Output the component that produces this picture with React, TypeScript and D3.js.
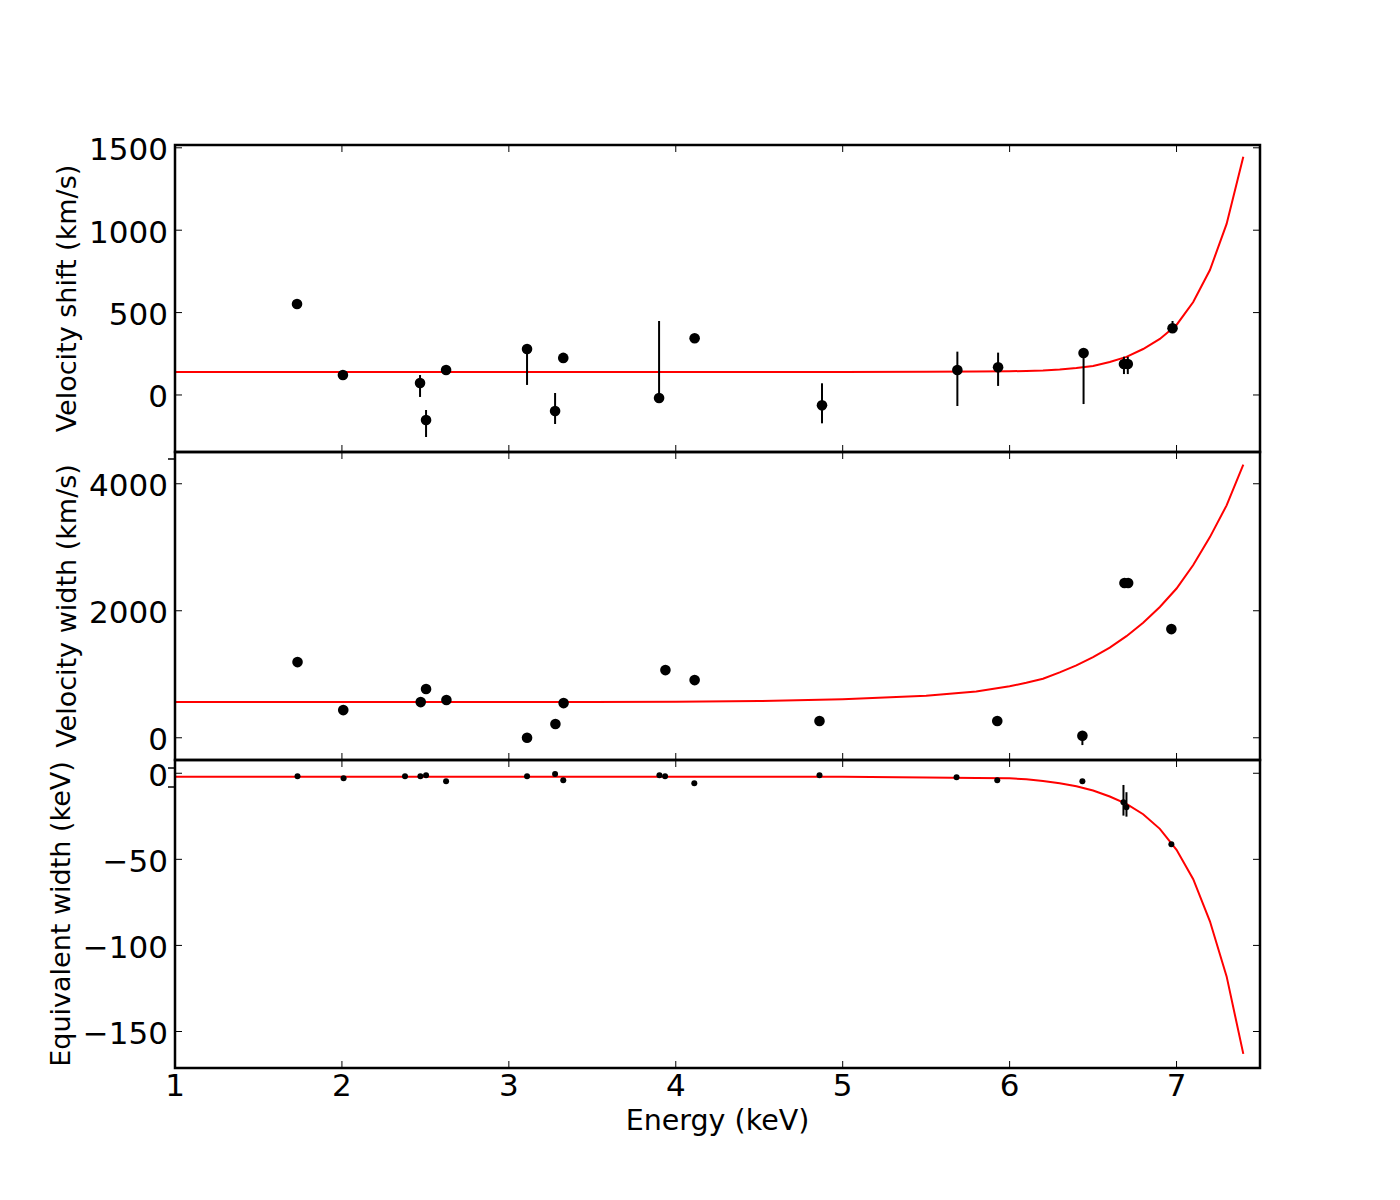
import React, { useEffect, useRef } from 'react';
import * as d3 from 'd3';

// Velocity shift panel (km/s)
const shiftEnergy = [1.731, 2.006, 2.468, 2.504, 2.624, 3.109, 3.277, 3.326, 3.900, 4.113, 4.876, 5.687, 5.931, 6.443, 6.685, 6.708, 6.976];
const shiftValue = [552, 121, 73, -152, 152, 279, -97, 225, -18, 344, -63, 152, 168, 255, 188, 188, 405];
const shiftLo = [null, null, -12, -255, null, 61, -176, null, -18, null, -172, -67, 55, -55, 127, 127, 405];
const shiftHi = [null, null, 121, -91, null, 279, 12, null, 449, null, 71, 263, 257, 255, 232, 232, 449];

// Velocity width panel (km/s)
const widthEnergy = [1.734, 2.008, 2.472, 2.504, 2.626, 3.109, 3.279, 3.328, 3.938, 4.113, 4.861, 5.926, 6.436, 6.688, 6.710, 6.969];
const widthValue = [1192, 436, 562, 767, 594, 0, 216, 546, 1066, 908, 263, 263, 31, 2436, 2436, 1711];
const widthLo = [null, null, null, null, null, null, null, null, 1010, null, null, null, -115, null, null, null];
const widthHi = [null, null, null, null, null, null, null, null, 1120, null, null, null, 99, null, null, null];

// Equivalent width panel (keV)
const ewEnergy = [1.734, 2.010, 2.378, 2.470, 2.504, 2.624, 3.109, 3.277, 3.326, 3.902, 3.936, 4.111, 4.861, 5.682, 5.926, 6.436, 6.682, 6.700, 6.969];
const ewValue = [-1.7, -2.9, -1.7, -1.7, -1.2, -4.6, -1.7, -0.4, -4.1, -1.2, -1.7, -5.8, -1.2, -2.3, -4.1, -4.6, -16.8, -19.7, -41.2];
const ewLo = [null, null, null, null, null, null, null, null, null, null, null, null, null, null, null, null, -24.6, -25.2, null];
const ewHi = [null, null, null, null, null, null, null, null, null, null, null, null, null, null, null, null, -6.8, -11.0, null];

// model curves
const modelEnergy = [1.0, 3.5, 4.0, 4.5, 5.0, 5.5, 5.8, 6.0, 6.1, 6.2, 6.3, 6.4, 6.5, 6.6, 6.7, 6.8, 6.9, 7.0, 7.1, 7.2, 7.3, 7.4];
const modelShift = [140, 140, 140, 140, 140, 141, 142, 144, 146, 149, 155, 164, 176, 200, 231, 279, 340, 425, 564, 758, 1038, 1445];
const modelWidth = [562, 564, 567, 578, 605, 660, 730, 810, 865, 930, 1030, 1140, 1270, 1420, 1600, 1810, 2060, 2350, 2720, 3160, 3660, 4300];
const modelEw = [-2.1, -2.1, -2.1, -2.1, -2.1, -2.4, -2.7, -2.9, -3.5, -4.5, -5.8, -7.5, -10.0, -13.5, -17.8, -23.8, -32.3, -44.5, -61.5, -86, -118, -163];

const xTicks = [1, 2, 3, 4, 5, 6, 7];
const shiftTicks = [0, 500, 1000, 1500];
const widthTicks = [0, 2000, 4000];
const ewTicks = [0, -50, -100, -150];

const App: React.FC = () => {
  const ref = useRef<SVGSVGElement | null>(null);

  useEffect(() => {
    if (!ref.current) return;
    const svg = d3.select(ref.current);
    svg.selectAll('*').remove();

    const left = 175;
    const right = 1260;
    const font = 'DejaVu Sans, Verdana, sans-serif';

    const x = d3.scaleLinear().domain([1, 7.5]).range([left, right]);

    const panels = [
      { top: 145, bottom: 452, domain: [-346, 1517], ticks: shiftTicks, label: 'Velocity shift (km/s)', labelX: 76,
        energy: shiftEnergy, value: shiftValue, lo: shiftLo, hi: shiftHi, model: modelShift, r: 5.3 },
      { top: 452, bottom: 760, domain: [-350, 4500], ticks: widthTicks, label: 'Velocity width (km/s)', labelX: 76,
        energy: widthEnergy, value: widthValue, lo: widthLo, hi: widthHi, model: modelWidth, r: 5.3 },
      { top: 760, bottom: 1068, domain: [-171.2, 7.7], ticks: ewTicks, label: 'Equivalent width (keV)', labelX: 70,
        energy: ewEnergy, value: ewValue, lo: ewLo, hi: ewHi, model: modelEw, r: 3 },
    ];

    panels.forEach((p, pi) => {
      const y = d3.scaleLinear().domain(p.domain).range([p.bottom, p.top]);
      const g = svg.append('g');

      const clipId = `clip${pi}`;
      svg.append('clipPath').attr('id', clipId)
        .append('rect').attr('x', left).attr('y', p.top).attr('width', right - left).attr('height', p.bottom - p.top);

      const plot = g.append('g').attr('clip-path', `url(#${clipId})`);

      // model line
      const line = d3.line<number>()
        .x((_, i) => x(modelEnergy[i]))
        .y((d) => y(d));
      plot.append('path')
        .datum(p.model)
        .attr('d', line)
        .attr('fill', 'none')
        .attr('stroke', '#ff0000')
        .attr('stroke-width', 2);

      // error bars
      p.energy.forEach((e, i) => {
        const lo = p.lo[i];
        const hi = p.hi[i];
        if (lo === null || hi === null) return;
        plot.append('line')
          .attr('x1', x(e)).attr('x2', x(e))
          .attr('y1', y(lo)).attr('y2', y(hi))
          .attr('stroke', '#000').attr('stroke-width', 2);
      });

      // points
      plot.selectAll('circle.pt')
        .data(p.energy)
        .enter()
        .append('circle')
        .attr('cx', (d) => x(d))
        .attr('cy', (_, i) => y(p.value[i]))
        .attr('r', p.r)
        .attr('fill', '#000');

      // ticks (inward, all four sides)
      p.ticks.forEach((t) => {
        g.append('line').attr('x1', left).attr('x2', left + 7).attr('y1', y(t)).attr('y2', y(t)).attr('stroke', '#000').attr('stroke-width', 1);
        g.append('line').attr('x1', right - 7).attr('x2', right).attr('y1', y(t)).attr('y2', y(t)).attr('stroke', '#000').attr('stroke-width', 1);
        g.append('text')
          .attr('x', 168)
          .attr('y', y(t) + 12.5)
          .attr('text-anchor', 'end')
          .attr('font-family', font)
          .attr('font-size', 31)
          .attr('fill', '#000')
          .text(d3.format('')(t).replace('-', '\u2212'));
      });
      xTicks.forEach((t) => {
        g.append('line').attr('x1', x(t)).attr('x2', x(t)).attr('y1', p.bottom).attr('y2', p.bottom - 7).attr('stroke', '#000').attr('stroke-width', 1);
        g.append('line').attr('x1', x(t)).attr('x2', x(t)).attr('y1', p.top).attr('y2', p.top + 7).attr('stroke', '#000').attr('stroke-width', 1);
      });

      // frame
      g.append('rect')
        .attr('x', left).attr('y', p.top)
        .attr('width', right - left).attr('height', p.bottom - p.top)
        .attr('fill', 'none').attr('stroke', '#000').attr('stroke-width', 2.5);

      // y label
      g.append('text')
        .attr('transform', `translate(${p.labelX},${(p.top + p.bottom) / 2}) rotate(-90)`)
        .attr('text-anchor', 'middle')
        .attr('font-family', font)
        .attr('font-size', 27)
        .attr('fill', '#000')
        .text(p.label);
    });

    // leftover tick fragments at panel joins
    [459, 768, 787].forEach((yy) => {
      svg.append('line').attr('x1', 168).attr('x2', 175).attr('y1', yy).attr('y2', yy).attr('stroke', '#000').attr('stroke-width', 1.5);
    });

    // x tick labels
    xTicks.forEach((t) => {
      svg.append('text')
        .attr('x', x(t))
        .attr('y', 1096)
        .attr('text-anchor', 'middle')
        .attr('font-family', font)
        .attr('font-size', 31)
        .attr('fill', '#000')
        .text(String(t));
    });

    svg.append('text')
      .attr('x', (left + right) / 2)
      .attr('y', 1130)
      .attr('text-anchor', 'middle')
      .attr('font-family', font)
      .attr('font-size', 28.5)
      .attr('fill', '#000')
      .text('Energy (keV)');
  }, []);

  return (
    <svg
      ref={ref}
      width={1400}
      height={1200}
      style={{ position: 'absolute', left: 0, top: 0, background: '#fff' }}
    />
  );
};

export default App;
